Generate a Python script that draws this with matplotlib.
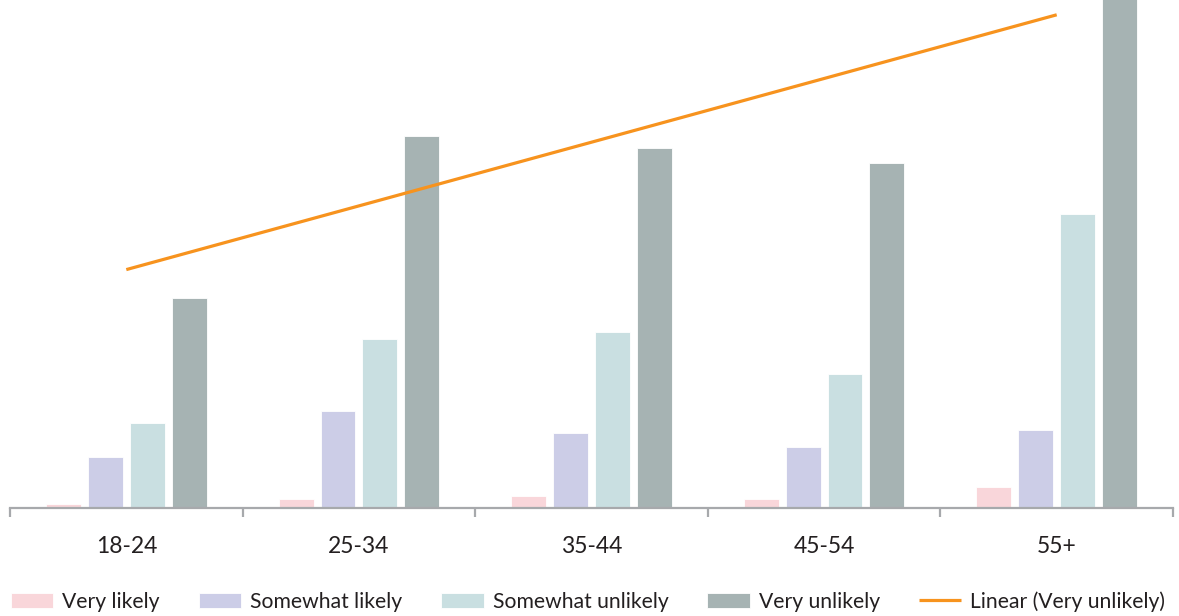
import numpy as np
import matplotlib
matplotlib.use("Agg")
import matplotlib.pyplot as plt
from matplotlib.ticker import FixedLocator

plt.rcParams['font.family'] = ['Lato', 'DejaVu Sans']

# data (arbitrary units)
age_groups = ["18-24", "25-34", "35-44", "45-54", "55+"]
series_names = ["Very likely", "Somewhat likely", "Somewhat unlikely", "Very unlikely"]
very_likely = [0.4, 0.9, 1.2, 0.9, 2.1]
somewhat_likely = [5.1, 9.7, 7.5, 6.1, 7.8]
somewhat_unlikely = [8.5, 16.9, 17.6, 13.4, 29.4]
very_unlikely = [21.0, 37.2, 36.0, 34.5, 54.2]
colors = ["#F9D6DA", "#CCCDE7", "#C9DFE1", "#A6B3B3"]
trend_color = "#F7931E"
text_color = "#231F20"

fig = plt.figure(figsize=(11.79, 6.16), dpi=100)
ax = fig.add_axes([10 / 1179, 1 - 508 / 616, 1163 / 1179, 508 / 616])

x = np.arange(len(age_groups))
step = 0.18
width = 0.15
all_series = [very_likely, somewhat_likely, somewhat_unlikely, very_unlikely]
handles = []
for i, (vals, name, col) in enumerate(zip(all_series, series_names, colors)):
    b = ax.bar(x + (i - 1.5) * step, vals, width, color=col, label=name,
               edgecolor="white", linewidth=0.6, zorder=2)
    handles.append(b)

# linear trend of "Very unlikely"
slope, intercept = np.polyfit(x, very_unlikely, 1)
line, = ax.plot(x, slope * x + intercept, color=trend_color, lw=2.3,
                label="Linear (Very unlikely)", zorder=3, solid_capstyle="butt")
handles.append(line)

ax.set_xlim(-0.5, len(age_groups) - 0.5)
ax.set_ylim(0, 50.8)
for s in ["top", "right", "left"]:
    ax.spines[s].set_visible(False)
ax.spines["bottom"].set_color("#A7A9AC")
ax.spines["bottom"].set_linewidth(1.6)
ax.set_yticks([])
ax.set_xticks(x)
ax.set_xticklabels(age_groups, fontsize=16.5, color=text_color)
ax.tick_params(axis="x", which="major", length=0, pad=20)
ax.xaxis.set_minor_locator(FixedLocator(np.arange(-0.5, len(age_groups), 1.0)))
ax.tick_params(axis="x", which="minor", length=6.5, width=1.6, color="#A7A9AC")

fig.legend(handles=handles, labels=[h.get_label() for h in handles],
           loc="center left", bbox_to_anchor=(11 / 1179, 1 - 601.5 / 616),
           ncol=5, frameon=False, fontsize=15.2, borderpad=0, borderaxespad=0,
           handlelength=2.0, handleheight=0.7, handletextpad=0.43,
           columnspacing=1.85, labelcolor=text_color)

fig.savefig("out.png", dpi=100)
